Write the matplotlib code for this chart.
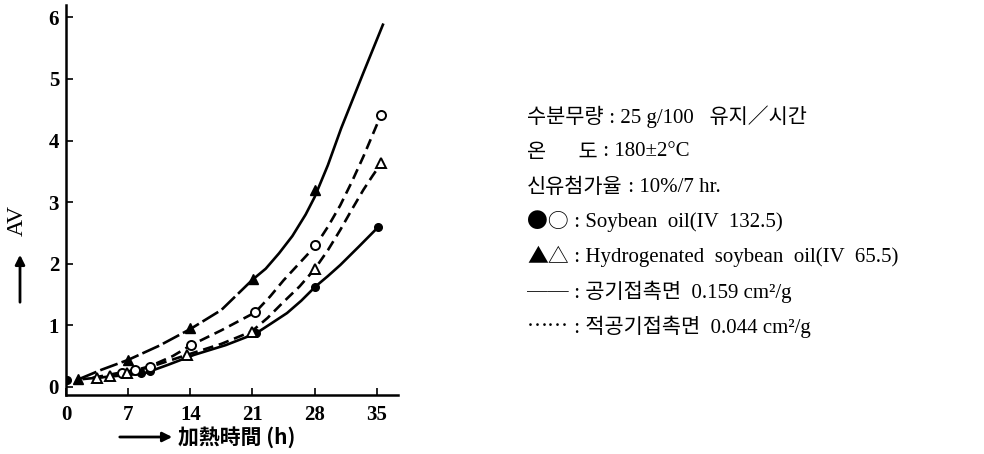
import matplotlib.pyplot as plt
from matplotlib.patches import FancyArrowPatch
from matplotlib.transforms import offset_copy

SERIF = ['Liberation Serif', 'Noto Sans CJK KR', 'DejaVu Sans']
CJK = ['Noto Sans CJK KR', 'DejaVu Sans']
plt.rcParams['font.family'] = SERIF

# curves (heating time h, AV)
# solid line, filled triangles (hydrogenated soybean oil, air contact 0.159)
tri_line_x = [1.5, 4, 7, 10.5, 14, 17.5, 21, 22.5, 24, 25.5, 27, 28, 29.5, 31, 33.5, 35.7]
tri_line_y = [0.13, 0.28, 0.44, 0.67, 0.94, 1.25, 1.74, 1.92, 2.17, 2.45, 2.8, 3.08, 3.6, 4.2, 5.1, 5.88]
tri_pts_x = [1.3, 7, 14, 21.1, 28]
tri_pts_y = [0.13, 0.44, 0.95, 1.75, 3.2]

# dashed line, open circles (soybean oil, air contact 0.044)
ocirc_line_x = [3, 6, 8, 9.5, 12, 14.1, 17.5, 21.3, 23, 24.5, 26.3, 28.1, 29.5, 30.9, 32.2, 33.5, 35.5]
ocirc_line_y = [0.15, 0.23, 0.28, 0.34, 0.5, 0.68, 0.92, 1.21, 1.47, 1.73, 2.01, 2.29, 2.6, 2.95, 3.33, 3.74, 4.42]
ocirc_pts_x = [6.3, 7.8, 9.5, 14.1, 21.3, 28.1, 35.5]
ocirc_pts_y = [0.22, 0.28, 0.33, 0.68, 1.21, 2.3, 4.42]

# dashed line, open triangles (hydrogenated, air contact 0.044)
otri_line_x = [3, 5, 6.9, 10, 13.6, 17.5, 20.9, 22.7, 24.5, 26.3, 28, 29.5, 30.9, 32.2, 33.5, 34.5, 35.5]
otri_line_y = [0.14, 0.18, 0.22, 0.35, 0.52, 0.7, 0.9, 1.12, 1.38, 1.63, 1.91, 2.22, 2.55, 2.88, 3.2, 3.42, 3.63]
otri_pts_x = [3.5, 5, 6.9, 13.6, 20.9, 28, 35.5]
otri_pts_y = [0.15, 0.18, 0.22, 0.52, 0.9, 1.91, 3.63]

# solid line, filled circles (soybean oil, air contact 0.159)
fcirc_line_x = [2, 5, 8.8, 11.5, 14.4, 18, 21.4, 23, 24.9, 26.5, 28.1, 29.5, 30.9, 33, 35.2]
fcirc_line_y = [0.13, 0.17, 0.22, 0.36, 0.52, 0.68, 0.87, 1.02, 1.2, 1.4, 1.63, 1.8, 1.98, 2.28, 2.6]
fcirc_pts_x = [0.1, 8.5, 9.5, 21.4, 28.1, 35.2]
fcirc_pts_y = [0.12, 0.22, 0.26, 0.87, 1.63, 2.6]

x_ticks = [0, 7, 14, 21, 28, 35]
y_ticks = [0, 1, 2, 3, 4, 5, 6]

note_keys = ['수분무량', '온       도', '신유첨가율', '●○', '▲△', '──', '……']
note_vals = [
    ' : 25 g/100   유지／시간',
    ' : 180±2°C',
    ' : 10%/7 hr.',
    ' : Soybean  oil(IV  132.5)',
    ' : Hydrogenated  soybean  oil(IV  65.5)',
    ' : 공기접촉면  0.159 cm²/g',
    ' : 적공기접촉면  0.044 cm²/g',
]

fig = plt.figure(figsize=(9.84, 4.54), dpi=100)
ax = fig.add_axes([66 / 984, 1 - 395 / 454, (398 - 66) / 984, 390 / 454])

lw = 1.9
k = tri_line_x.index(21)
ax.plot(tri_line_x[:k + 1], tri_line_y[:k + 1], color='black', lw=lw, dashes=(7, 1.6))
ax.plot(tri_line_x[k:], tri_line_y[k:], color='black', lw=lw)
ax.plot(ocirc_line_x, ocirc_line_y, color='black', lw=lw, dashes=(4, 2.2))
ax.plot(otri_line_x, otri_line_y, color='black', lw=lw, dashes=(4, 2.2))
ax.plot(fcirc_line_x, fcirc_line_y, color='black', lw=lw)

ax.plot(tri_pts_x, tri_pts_y, ls='none', marker='^', ms=7, color='black')
ax.plot(fcirc_pts_x, fcirc_pts_y, ls='none', marker='o', ms=5.5, color='black')
ax.plot(ocirc_pts_x, ocirc_pts_y, ls='none', marker='o', ms=6.5, mfc='white', mec='black', mew=1.4)
ax.plot(otri_pts_x, otri_pts_y, ls='none', marker='^', ms=7, mfc='white', mec='black', mew=1.4)

ax.set_xlim(0.1, 37.4)
ax.set_ylim(-0.13, 6.2)
ax.spines['top'].set_visible(False)
ax.spines['right'].set_visible(False)
for s in ('left', 'bottom'):
    ax.spines[s].set_linewidth(1.8)
ax.set_xticks(x_ticks)
ax.set_yticks(y_ticks)
ax.tick_params(direction='in', length=5, width=1.2, labelsize=15, pad=5)
ax.tick_params(axis='x', pad=7)
for lab in ax.get_xticklabels() + ax.get_yticklabels():
    lab.set_fontweight('bold')

# axis labels with arrows, as in the print
fig.text(17 / 984, 1 - 220 / 454, 'AV', rotation=90, ha='center', va='center', fontsize=17)
fig.patches.append(FancyArrowPatch(
    (20 / 984, 1 - 305 / 454), (20 / 984, 1 - 252 / 454), transform=fig.transFigure,
    arrowstyle='-|>', mutation_scale=14, lw=2, color='black'))
fig.patches.append(FancyArrowPatch(
    (117 / 984, 1 - 437 / 454), (175 / 984, 1 - 437 / 454), transform=fig.transFigure,
    arrowstyle='-|>', mutation_scale=14, lw=2, color='black'))
fig.text(178 / 984, 1 - 437 / 454, '加熱時間 (h)', ha='left', va='center', fontsize=15,
         family=['Noto Sans CJK JP', 'DejaVu Sans'], weight='bold')

renderer = fig.canvas.get_renderer()
for i, (key, val) in enumerate(zip(note_keys, note_vals)):
    y = 1 - (117 + 35 * i) / 454
    t = fig.text(527 / 984, y, key, ha='left', va='center', fontsize=15, family=CJK)
    w = t.get_window_extent(renderer).width
    fig.text(527 / 984, y, val, ha='left', va='center', fontsize=15,
             transform=offset_copy(fig.transFigure, fig=fig, x=w * 72 / fig.dpi, units='points'))

fig.savefig('out.png', dpi=100)
